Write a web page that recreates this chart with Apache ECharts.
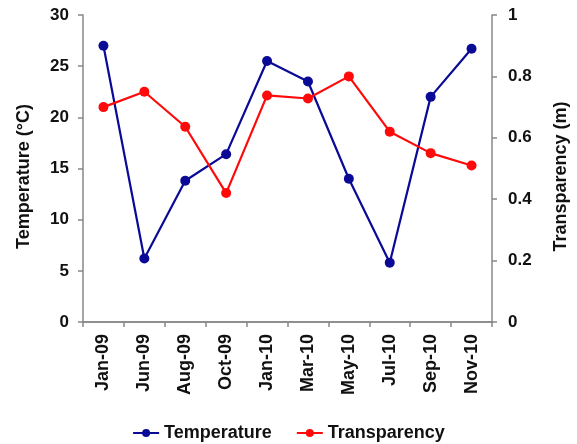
<!DOCTYPE html>
<html>
<head>
<meta charset="utf-8">
<script src="https://cdn.jsdelivr.net/npm/echarts@6/dist/echarts.min.js"></script>
<style>
  html, body { margin: 0; padding: 0; background: #fff; }
  #chart { width: 577px; height: 444px; }
</style>
</head>
<body>
<div id="chart"></div>
<script>
// Sampling dates
var months = ['Jan-09', 'Jun-09', 'Aug-09', 'Oct-09', 'Jan-10', 'Mar-10', 'May-10', 'Jul-10', 'Sep-10', 'Nov-10'];
// Water temperature (°C)
var temperature = [27.0, 6.2, 13.8, 16.4, 25.5, 23.5, 14.0, 5.8, 22.0, 26.7];
// Secchi transparency (m)
var transparency = [0.70, 0.75, 0.636, 0.42, 0.738, 0.728, 0.80, 0.62, 0.55, 0.51];

var font = 'Liberation Sans, Arial, sans-serif';
var axisGray = '#888888';
var tickText = { color: '#111', fontFamily: font, fontWeight: 'bold', fontSize: 17 };
var nameText = { color: '#111', fontFamily: font, fontWeight: 'bold', fontSize: 18, padding: [0, 16, 0, 0] };

var chart = echarts.init(document.getElementById('chart'), null, { renderer: 'canvas' });
chart.setOption({
  animation: false,
  backgroundColor: '#ffffff',
  grid: { left: 83, right: 85, top: 15, bottom: 122, containLabel: false, outerBoundsMode: 'none' },
  legend: {
    top: 419,
    left: 'center',
    itemWidth: 26,
    itemHeight: 10,
    itemGap: 24,
    textStyle: { color: '#111', fontFamily: font, fontWeight: 'bold', fontSize: 18 },
    data: ['Temperature', 'Transparency']
  },
  xAxis: [{
    type: 'category',
    data: months,
    boundaryGap: true,
    axisLine: { lineStyle: { color: axisGray, width: 1.5 } },
    axisTick: { show: true, inside: false, length: 5, lineStyle: { color: axisGray, width: 1.5 } },
    axisLabel: Object.assign({ rotate: 90, margin: 12, interval: 0 }, tickText, { fontSize: 18 }),
    splitLine: { show: false }
  }, {
    // top border of the plot area
    type: 'category',
    position: 'top',
    data: months,
    axisLine: { show: true, lineStyle: { color: axisGray, width: 1.5 } },
    axisTick: { show: false },
    axisLabel: { show: false },
    splitLine: { show: false }
  }],
  yAxis: [{
    type: 'value',
    min: 0, max: 30, interval: 5,
    position: 'left',
    name: 'Temperature (°C)',
    nameLocation: 'middle',
    nameGap: 50,
    nameTextStyle: nameText,
    axisLine: { show: true, lineStyle: { color: axisGray, width: 1.5 } },
    axisTick: { show: true, inside: false, length: 5, lineStyle: { color: axisGray, width: 1.5 } },
    axisLabel: Object.assign({ margin: 14 }, tickText),
    splitLine: { show: false }
  }, {
    type: 'value',
    min: 0, max: 1, interval: 0.2,
    position: 'right',
    name: 'Transparency (m)',
    nameLocation: 'middle',
    nameGap: 60,
    nameRotate: 90,
    nameTextStyle: nameText,
    axisLine: { show: true, lineStyle: { color: axisGray, width: 1.5 } },
    axisTick: { show: true, inside: false, length: 5, lineStyle: { color: axisGray, width: 1.5 } },
    axisLabel: Object.assign({ margin: 16, formatter: function (v) { return String(+v.toFixed(1)); } }, tickText),
    splitLine: { show: false }
  }],
  series: [{
    name: 'Temperature',
    type: 'line',
    yAxisIndex: 0,
    data: temperature,
    symbol: 'circle',
    symbolSize: 10,
    color: '#0a0a96',
    lineStyle: { width: 2.2, color: '#0a0a96' },
    itemStyle: { color: '#0a0a96' }
  }, {
    name: 'Transparency',
    type: 'line',
    yAxisIndex: 1,
    data: transparency,
    symbol: 'circle',
    symbolSize: 10,
    color: '#ff0a0a',
    lineStyle: { width: 2.2, color: '#ff0a0a' },
    itemStyle: { color: '#ff0a0a' }
  }]
});
</script>
</body>
</html>
